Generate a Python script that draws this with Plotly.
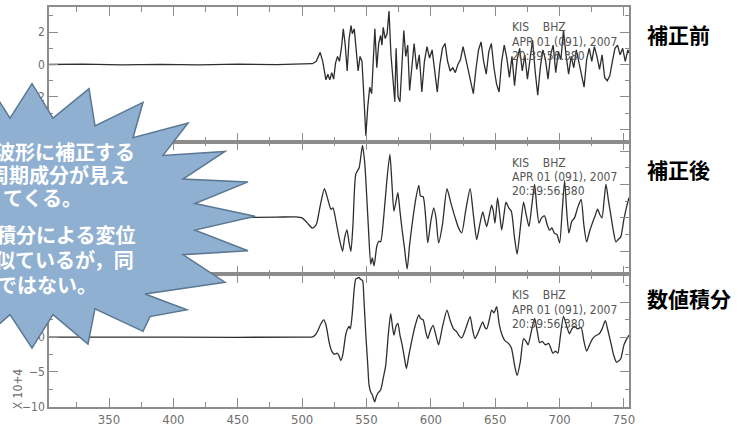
import plotly.graph_objects as go

# ---------------- data ----------------
# 補正前 : raw record (counts, top panel)
t_before = [303, 330, 360, 390, 420, 450, 480, 500, 508, 511, 514, 516, 518.5, 520, 521.5, 523, 524.5,
            526, 527.5, 529, 530.5, 532, 533.5, 535, 536.5, 538, 539, 540.5, 542, 543.5, 545, 546.5,
            548, 549.5, 551, 552.5, 554, 555.5, 556.5, 558, 559.5, 561, 562, 563, 564.5, 566, 567.5,
            569, 570.5, 572, 573, 574.5, 576, 577.5, 579, 580.5, 582, 583.5, 585, 587, 589, 591, 593,
            595, 597, 599, 601, 603, 605, 607, 609, 611, 613, 615, 617, 619, 621, 623, 625, 627, 629,
            631, 633, 635, 637, 639, 641, 643, 645, 647, 649, 651, 653, 655, 657, 659, 661, 663, 665,
            667, 669, 671, 673, 675, 677, 679, 681, 683, 685, 687, 689, 691, 693, 695, 697, 699, 701,
            703, 705, 707, 709, 711, 713, 715, 717, 719, 721, 723, 725, 727, 729, 731, 733, 735, 737,
            739, 741, 743, 745, 747, 749, 751, 753, 754]
v_before = [0.0, 0.02, -0.02, 0.01, -0.02, 0.02, -0.01, 0.02, 0.05, 0.2, 0.75, 0.2, -0.95, -0.6, -0.95,
            -0.5, -0.9, 0.1, 0.5, 0.2, 1.0, 2.2, 1.2, -0.4, 1.6, 2.4, 1.9, 2.2, 0.6, -0.4, 0.5, 0.2,
            -2.0, -4.4, -2.6, -1.4, -1.8, 0.6, 2.2, -0.2, 1.3, 1.8, 1.2, 2.3, 1.6, 1.9, 3.3,
            0.6, -1.0, -2.3, 1.0, -2.0, -2.3, 0.2, 2.1, 0.5, 1.2, -1.6, -0.5, 1.3, -0.3, 0.6, -1.7,
            0.2, 1.1, 0.4, 0.9, -0.6, -1.7, 0.0, 1.0, 1.3, 0.2, -0.4, -0.2, -0.5, 0.0, 0.3, 1.1, 0.4, -0.4,
            -1.0, -1.8, -0.3, 0.9, 1.4, 0.2, -0.6, 0.8, 1.3, -0.2, -1.2, -1.7, 0.2, 1.2, 0.4, -0.8, 0.5, -1.3,
            0.3, 1.0, -0.4, 0.6, -0.9, 0.2, 1.5, -0.4, -1.9, -0.2, 0.9, 0.3, -0.9, 0.6, 1.2, -0.5, 0.8, 0.3,
            2.1, 0.6, -0.6, 0.5, -0.2, 0.9, 0.1, -0.5, -1.4, 0.3, 1.0, 0.2, 1.1, 0.5, -0.3, 0.6, -0.8, -1.0,
            -0.7, 0.2, 1.0, 1.2, 0.6, 1.0, 0.2, 0.9, 0.7]

# 補正後 : instrument-corrected displacement (middle panel)
t_after = [303, 350, 400, 450, 480, 495, 500, 504, 508, 511, 514, 517.3, 520, 522.4, 524, 526.3, 528.5,
           531.4, 533, 534.8, 536.5, 537.9, 539.5, 541.7, 544.3, 546.9, 548.5, 549.4, 551.5, 553.3,
           554.5, 555.9, 558, 559.7, 561, 563.6, 566, 568.2, 569.8, 571.3, 573, 574.4, 576, 577.7,
           579.5, 581.6, 583.5, 585.5, 588, 590.6, 592, 594, 596, 597.6, 600, 602.2, 604, 606, 609,
           612.5, 615.5, 618.9, 621.5, 624, 627, 630.5, 633, 635.6, 638, 640.3, 641.8, 643.4, 645.5,
           647.2, 648.5, 649.8, 651.8, 653.5, 655, 656.8, 658.3, 660.5, 662.5, 665, 667, 669.5, 672,
           674, 676.2, 678.5, 680.6, 682.3, 684, 686, 688.3, 690.3, 692.2, 694, 696, 698, 700, 702,
           703.9, 705.5, 707.2, 709.5, 711.6, 714, 716.7, 718.8, 721, 723.3, 725.7, 727.5, 729.5,
           731.2, 732.9, 734.5, 736, 738, 739.8, 741.8, 743.7, 745.5, 747.5, 750, 752.6, 753.9]
v_after = [0.0, 0.01, 0.0, 0.01, 0.02, 0.03, 0.0, -0.15, -0.31, -0.2, 0.35, 0.87, 0.55, 0.25, 0.3, -0.1,
           -0.55, -1.0, -0.6, -0.36, -0.75, -1.0, -0.2, 1.31, 1.5, 2.17, 1.7, 1.2, -0.3, -1.39,
           -1.2, -1.44, -0.85, -0.7, -0.72, 0.12, 1.2, 1.9, 1.0, 0.2, 0.5, 0.75, 0.2, -0.37,
           -0.9, -1.53, -0.8, -0.18, 0.5, 0.97, 0.65, 0.63, 0.0, -0.75, -0.1, 0.3, 0.0, -0.75, -0.2,
           0.87, 0.45, 0.0, -0.3, -0.45, 0.2, 0.87, 0.1, -0.65, -0.2, 0.18, -0.05, -0.26, 0.1,
           0.38, 0.2, -0.16, 0.6, 0.1, -0.37, 0.1, 0.47, 0.3, 0.2, -0.6, -1.09, -0.3, 0.47,
           0.1, -0.26, 0.4, 1.01, 0.3, -0.16, 0.0, 0.06, -0.2, -0.37, -0.3, -0.46, -0.5, -0.75, 0.2,
           1.11, 0.2, -0.46, -0.1, 0.0, 0.3, 0.55, -0.2, -0.72, -0.4, -0.13, 0.05, 0.26,
           0.1, 0.0, 0.5, 1.01, 0.5, 0.08, -0.4, -0.72, -0.65, -0.57, -0.03, 0.42, 0.6]

# 数値積分 : numerically integrated record (x 10^4, bottom panel)
t_integ = [303, 400, 500, 508, 510.5, 512.1, 514.5, 516.8, 518.5, 521.1, 523, 525, 527, 528.5, 530,
           531.5, 534, 535.5, 536.5, 537.5, 539, 540.5, 541.7, 543, 544.3, 545.5, 546.9, 548, 549.4,
           551, 552, 553.5, 554.6, 555.5, 556.4, 557.5, 559, 561, 563, 564.9, 567, 568.8, 570, 571.3,
           573, 574.4, 576, 577.7, 579.5, 581, 583, 585.5, 588, 590.6, 592, 594, 596, 597.6, 599.5,
           601.7, 604, 606, 609, 612.5, 615, 617.6, 620, 622, 624, 627, 630.5, 632.5, 634.3, 637,
           640.3, 642, 643.4, 645.5, 647.2, 649, 651.1, 653, 655, 657.5, 660, 662.5, 665, 667, 669.5,
           672, 674, 675.5, 678, 680.6, 682.5, 684.5, 686.5, 689, 691.5, 694.8, 696.8, 698.6, 700.5,
           703, 705.5, 707.6, 709.5, 711.5, 714, 716.7, 718.8, 721, 723.5, 725.7, 728, 730.8, 733,
           735.5, 737.5, 739.8, 742, 744.2, 746, 747.5, 750, 752.6, 753.9]
v_integ = [0.0, 0.0, 0.0, 0.05, 0.4, 0.9, 1.9, 2.5, 1.8, -0.8, -2.0, -2.45, -2.3, -2.6, -3.35,
           -2.6, 0.5, 1.3, 1.55, 1.2, 3.5, 7.0, 8.4, 8.5, 8.6, 8.3, 8.2, 5.5, 0.6,
           -4.0, -6.9, -8.0, -8.3, -8.9, -9.3, -8.6, -8.0, -7.6, -5.9, -4.1, 0.5, 3.4, 1.8, 0.3,
           1.6, 2.0, 0.3, -1.1, -3.0, -4.5, -2.5, -0.2, 1.8, 3.2, 2.7, 2.5, 0.8, -0.2, 0.9,
           1.7, 0.2, -1.1, 1.5, 3.9, 2.4, 1.2, 0.8, 0.2, -0.1, 1.2, 2.96, 1.0, -0.2, 0.8,
           2.2, 1.4, 1.2, 2.6, 3.9, 3.5, 4.4, 2.0, 0.5, -0.5, -0.85, -1.5, -4.0, -5.5, -3.5,
           -0.2, -0.6, -1.1, 0.8, 2.7, 1.0, -0.8, -0.6, -1.1, -0.9, -2.3, -2.0, -2.3, 0.0,
           3.0, 1.6, 0.5, 1.2, 1.6, 1.2, 1.4, -0.5, -2.0, -1.0, -0.2, 0.2, 0.5, 1.2,
           2.4, 1.0, -0.8, -2.6, -3.6, -3.4, -3.1, -1.1, -0.1, 0.3]

x_range = [303.4, 753.9]
y_ranges = [[-4.76, 3.55], [-1.69, 2.28], [-10.04, 9.05]]
y_dticks = [2, 1, 5]
y_minor = [1, 0.5, 2.5]
panel_labels = ["補正前", "補正後", "数値積分"]
header_lines = ["KIS\u00a0\u00a0\u00a0\u00a0BHZ", "APR 01 (091), 2007", "20:39:56.380"]
callout_lines = ["波形に補正する", "長周期成分が見え", "てくる。", "数値積分による変位", "似ているが，同", "じではない。"]
scale_note = "X 10+4"

# ---------------- layout helpers ----------------
W, H = 738, 432
L, R, T, B = 49, 629, 5, 412


def xp(px):
    return (px - L) / (R - L)


def yp(py):
    return (B - py) / (B - T)


FRAME = "#8c8c8c"
TICKTXT = "#6e6e6e"
WAVE = "#2e2e2e"
NARROW = "Liberation Sans Narrow, Arial Narrow, DejaVu Sans Condensed, sans-serif"
JP = "Noto Sans CJK JP"

panel_px = [(5, 142), (142, 277), (277, 412)]
domains = [[yp(b), yp(t)] for (t, b) in panel_px]

fig = go.Figure()
series = [(t_before, v_before, "linear"), (t_after, v_after, "spline"), (t_integ, v_integ, "spline")]
for i, (tt, vv, shp) in enumerate(series):
    sfx = "" if i == 0 else str(i + 1)
    fig.add_trace(go.Scatter(x=tt, y=vv, mode="lines", xaxis="x" + sfx, yaxis="y" + sfx,
                             line=dict(color=WAVE, width=1.3, shape=shp,
                                       smoothing=0.6 if shp == "spline" else None),
                             showlegend=False, hoverinfo="skip"))

lay = dict(width=W, height=H, margin=dict(l=L, r=W - R, t=T, b=H - B),
           paper_bgcolor="white", plot_bgcolor="white", showlegend=False)
for i in range(3):
    sfx = "" if i == 0 else str(i + 1)
    lay["xaxis" + sfx] = dict(
        range=x_range, domain=[0, 1], anchor="y" + sfx,
        matches=None if i == 2 else "x3",
        showgrid=False, zeroline=False, showline=True, linecolor=FRAME, linewidth=1.6,
        mirror="ticks", ticks="inside", ticklen=9, tickwidth=1.2, tickcolor=FRAME,
        tick0=0, dtick=50, showticklabels=(i == 2),
        tickfont=dict(family=NARROW, size=13, color=TICKTXT),
        minor=dict(dtick=25, tick0=0, ticks="inside", ticklen=5, tickwidth=1, tickcolor=FRAME),
    )
    lay["yaxis" + sfx] = dict(
        range=y_ranges[i], domain=domains[i], anchor="x" + sfx,
        showgrid=False, zeroline=False, showline=True, linecolor=FRAME, linewidth=1.6,
        mirror="ticks", ticks="inside", ticklen=9, tickwidth=1.2, tickcolor=FRAME,
        tick0=0, dtick=y_dticks[i],
        tickfont=dict(family=NARROW, size=12, color=TICKTXT),
        minor=dict(dtick=y_minor[i], tick0=0, ticks="inside", ticklen=4, tickwidth=1, tickcolor=FRAME),
    )
fig.update_layout(**lay)

annotations = []
# header text inside each panel
header_y = [(25, 40.5, 55), (163.5, 178, 192.5), (298.5, 313, 327.5)]
for ys in header_y:
    for txt, y in zip(header_lines, ys):
        annotations.append(dict(text=txt, xref="paper", yref="paper", x=xp(510), y=yp(y),
                                xanchor="left", yanchor="middle", showarrow=False,
                                font=dict(family=NARROW, size=12, color="#555555")))
# panel labels on the right
for txt, y in zip(panel_labels, (32, 170, 301)):
    annotations.append(dict(text="<b>" + txt + "</b>", xref="paper", yref="paper", x=xp(645), y=yp(y),
                            xanchor="left", yanchor="middle", showarrow=False,
                            font=dict(family=JP, size=21, color="black")))
# exponent note
annotations.append(dict(text=scale_note, xref="paper", yref="paper", x=xp(18), y=yp(394),
                        xanchor="center", yanchor="middle", textangle=-90, showarrow=False,
                        font=dict(family=NARROW, size=12, color=TICKTXT)))

# starburst callout
burst = [(-60, 90), (-20, 70), (10, 118), (32, 83), (53, 118), (89, 88), (95, 126), (143, 102),
         (133, 138), (188, 123), (163, 156), (225, 152), (183, 180), (248, 183), (195, 205),
         (255, 218), (195, 232), (248, 253), (183, 257), (225, 285), (145, 297), (187, 313),
         (150, 320), (143, 335), (95, 312), (88, 348), (53, 318), (32, 352), (10, 318),
         (-20, 345), (-60, 300)]
path = "M " + " L ".join(f"{xp(a):.4f},{yp(b):.4f}" for a, b in burst) + " Z"
fig.add_shape(type="path", path=path, xref="paper", yref="paper", layer="above",
              fillcolor="#8fb0d0", line=dict(color="#5a7893", width=1.5))

callout_pos = [(137, 152), (131, 175.5), (84, 199), (137, 236), (136, 262), (99, 287)]
for txt, (xr, yc) in zip(callout_lines, callout_pos):
    annotations.append(dict(text="<b>" + txt + "</b>", xref="paper", yref="paper", x=xp(xr), y=yp(yc),
                            xanchor="right", yanchor="middle", showarrow=False,
                            font=dict(family=JP, size=20, color="white")))

fig.update_layout(annotations=annotations)
fig.write_html("out.html")
